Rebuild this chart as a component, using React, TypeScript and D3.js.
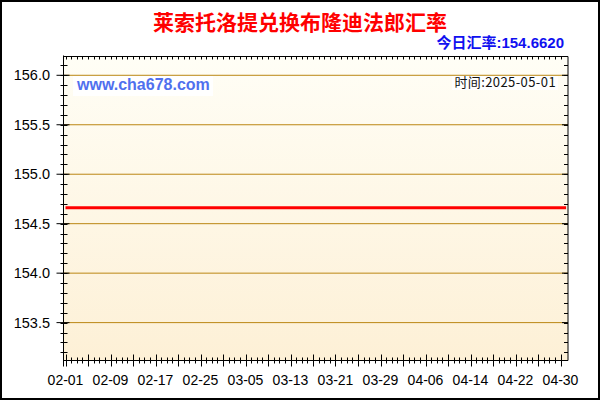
import React from 'react';
import * as d3 from 'd3';

// chart texts
const titleText = '莱索托洛提兑换布隆迪法郎汇率';
const todayRateText = '今日汇率:154.6620';
const siteText = 'www.cha678.com';
const timeText = '时间:2025-05-01';

// daily series, 2025-02-01 .. 2025-05-01
const startDate = '2025-02-01';
const endDate = '2025-05-01';
const rateValues = [
  154.662, 154.662, 154.662, 154.662, 154.662, 154.662, 154.662, 154.662, 154.662, 154.662,
  154.662, 154.662, 154.662, 154.662, 154.662, 154.662, 154.662, 154.662, 154.662, 154.662,
  154.662, 154.662, 154.662, 154.662, 154.662, 154.662, 154.662, 154.662, 154.662, 154.662,
  154.662, 154.662, 154.662, 154.662, 154.662, 154.662, 154.662, 154.662, 154.662, 154.662,
  154.662, 154.662, 154.662, 154.662, 154.662, 154.662, 154.662, 154.662, 154.662, 154.662,
  154.662, 154.662, 154.662, 154.662, 154.662, 154.662, 154.662, 154.662, 154.662, 154.662,
  154.662, 154.662, 154.662, 154.662, 154.662, 154.662, 154.662, 154.662, 154.662, 154.662,
  154.662, 154.662, 154.662, 154.662, 154.662, 154.662, 154.662, 154.662, 154.662, 154.662,
  154.662, 154.662, 154.662, 154.662, 154.662, 154.662, 154.662, 154.662, 154.662, 154.662,
];

const xTickLabels = ['02-01', '02-09', '02-17', '02-25', '03-05', '03-13', '03-21', '03-29', '04-06', '04-14', '04-22', '04-30'];
const yTickValues = [153.5, 154.0, 154.5, 155.0, 155.5, 156.0];

const width = 600;
const height = 400;
const plot = { left: 63.5, right: 568, top: 56.5, bottom: 360.5 };

const parseDay = d3.timeParse('%Y-%m-%d');
const days = d3.timeDay.range(parseDay(startDate)!, d3.timeDay.offset(parseDay(endDate)!, 1));
const series = days.map((d, i) => ({ date: d, value: rateValues[i] }));

const x = d3
  .scaleTime()
  .domain([parseDay('2025-02-01')!, parseDay('2025-04-30')!])
  .range([65.5, 560.5]);

const y = d3.scaleLinear().domain([153.117, 156.19]).range([plot.bottom, plot.top]);

const latin = '"Liberation Sans", Arial, sans-serif';
const cjk = '"Liberation Sans", "Noto Sans CJK SC", sans-serif';

export default function App() {
  const line = d3
    .line<{ date: Date; value: number }>()
    .x(d => x(d.date))
    .y(d => y(d.value));

  const minorY = y.ticks(30);
  const tickDays = d3.timeDay.range(parseDay('2025-02-01')!, d3.timeDay.offset(parseDay('2025-04-30')!, 1));
  const labelDates = xTickLabels.map(l => parseDay('2025-' + l)!);

  return (
    <>
      <style>{`body{margin:0}`}</style>
      <svg width={width} height={height} style={{ display: 'block' }}>
        <defs>
          <linearGradient id="bg" x1="0" y1="0" x2="0" y2="1">
            <stop offset="0%" stopColor="#fffef6" />
            <stop offset="100%" stopColor="#fdf0d6" />
          </linearGradient>
        </defs>
        <rect x={0} y={0} width={width} height={height} fill="#fff" />
        <rect x={1} y={1} width={width - 2} height={height - 2} fill="none" stroke="#000" strokeWidth={2} />

        <text x={300} y={30} textAnchor="middle" fill="#ff0000" fontWeight="bold" fontSize={21} fontFamily={'"Noto Sans CJK SC", sans-serif'}>
          {titleText}
        </text>
        <text x={564} y={48} textAnchor="end" fill="#1010f0" fontWeight="bold" fontSize={15} fontFamily={cjk}>
          {todayRateText}
        </text>

        <rect x={plot.left} y={plot.top} width={plot.right - plot.left} height={plot.bottom - plot.top} fill="url(#bg)" />

        {yTickValues.map(v => (
          <line key={'g' + v} x1={plot.left} x2={plot.right} y1={y(v)} y2={y(v)} stroke="#bb8612" strokeWidth={1} />
        ))}

        <rect x={73} y={76} width={140} height={20} fill="#fff" />
        <text x={77} y={90} fill="#5070ee" fontWeight="bold" fontSize={16} fontFamily={latin}>
          {siteText}
        </text>
        <rect x={452} y={76} width={106} height={14} fill="#fff" />
        <text x={556} y={87} textAnchor="end" fill="#111" fontSize={13} letterSpacing={0.4} fontFamily={'"Noto Sans CJK SC", sans-serif'}>
          {timeText}
        </text>

        <path d={line(series) ?? ''} fill="none" stroke="#ff0000" strokeWidth={3} />

        {/* frame */}
        <line x1={plot.left} x2={plot.left} y1={plot.top - 1} y2={plot.bottom + 6} stroke="#000" />
        <line x1={plot.left} x2={plot.right} y1={plot.bottom} y2={plot.bottom} stroke="#000" />
        <line x1={plot.left} x2={plot.right} y1={plot.top} y2={plot.top} stroke="#000" />
        <line x1={plot.right} x2={plot.right} y1={plot.top} y2={plot.bottom} stroke="#000" />

        {/* y ticks */}
        {minorY.map(v => (
          <g key={'yt' + v}>
            <line x1={plot.left - 3} x2={plot.left + 4} y1={Math.round(y(v)) + 0.5} y2={Math.round(y(v)) + 0.5} stroke="#000" />
            <line x1={plot.right - 4} x2={plot.right} y1={Math.round(y(v)) + 0.5} y2={Math.round(y(v)) + 0.5} stroke="#000" />
          </g>
        ))}
        {yTickValues.map(v => (
          <g key={'yl' + v}>
            <line x1={plot.left - 7} x2={plot.left + 6} y1={y(v)} y2={y(v)} stroke="#000" />
            <line x1={plot.right - 6} x2={plot.right} y1={y(v)} y2={y(v)} stroke="#000" />
            <text x={50} y={y(v) + 5} textAnchor="end" fontSize={14.5} fill="#000" fontFamily={latin}>
              {v.toFixed(1)}
            </text>
          </g>
        ))}

        {/* x ticks */}
        {tickDays.map((d, i) => {
          const px = Math.round(x(d)) + 0.5;
          const major = i % 4 === 0;
          return (
            <g key={'xt' + i}>
              <line x1={px} x2={px} y1={major ? plot.bottom - 6 : plot.bottom - 3} y2={major ? plot.bottom + 6 : plot.bottom + 3} stroke="#000" />
              <line x1={px} x2={px} y1={plot.top} y2={plot.top + 3} stroke="#000" />
            </g>
          );
        })}
        {labelDates.map((d, i) => (
          <text key={'xl' + i} x={x(d)} y={385} textAnchor="middle" fontSize={14} fill="#000" fontFamily={latin}>
            {xTickLabels[i]}
          </text>
        ))}
      </svg>
    </>
  );
}
